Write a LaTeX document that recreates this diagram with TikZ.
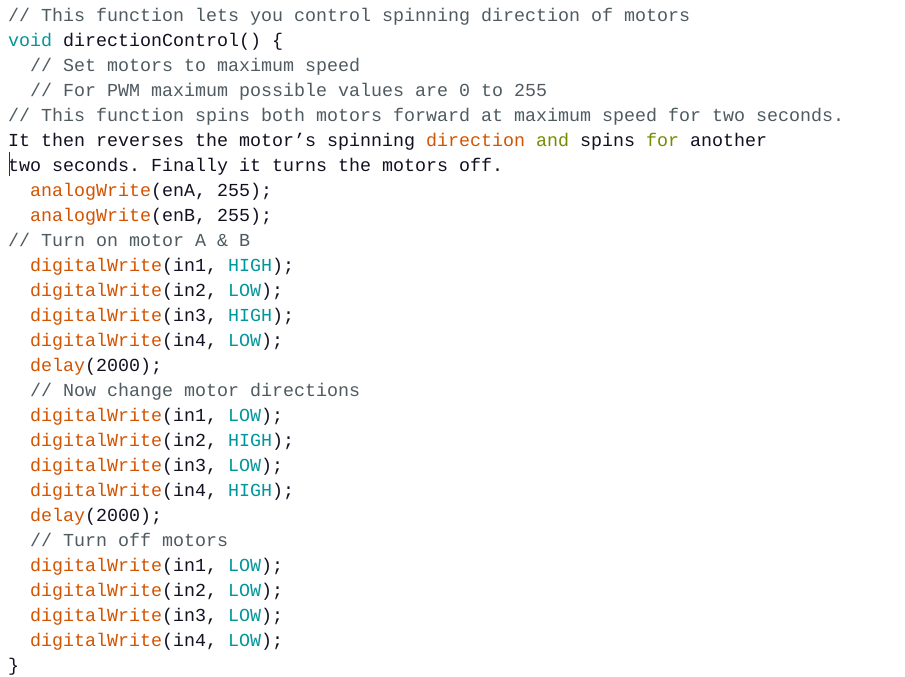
\documentclass[tikz,border=0pt]{standalone}
\usepackage{fontspec}
\setmonofont{Liberation Mono}
\definecolor{cmtc}{HTML}{4F5B61}
\definecolor{kwdc}{HTML}{00979C}
\definecolor{fncc}{HTML}{D35400}
\definecolor{olvc}{HTML}{728E00}
\definecolor{txtc}{HTML}{111122}
\newcommand{\cmt}[1]{\textcolor{cmtc}{#1}}
\newcommand{\kwd}[1]{\textcolor{kwdc}{#1}}
\newcommand{\fnc}[1]{\textcolor{fncc}{#1}}
\newcommand{\olv}[1]{\textcolor{olvc}{#1}}
\tikzset{codeline/.style={anchor=base west,inner sep=0pt,outer sep=0pt,text=txtc,font=\fontsize{13.75pt}{16pt}\selectfont\ttfamily}}
\begin{document}
\begin{tikzpicture}[x=0.75pt,y=-0.75pt]
\fill[white] (0,0) rectangle (905,676);
\useasboundingbox (0,0) rectangle (905,676);
\node[codeline] (l0) at (8,21) {\cmt{// This function lets you control spinning direction of motors}};
\node[codeline] (l1) at (8,46) {\kwd{void} directionControl() \{};
\node[codeline] (l2) at (30,71) {\cmt{// Set motors to maximum speed}};
\node[codeline] (l3) at (30,96) {\cmt{// For PWM maximum possible values are 0 to 255}};
\node[codeline] (l4) at (8,121) {\cmt{// This function spins both motors forward at maximum speed for two seconds.}};
\node[codeline] (l5) at (8,146) {It then reverses the motor’s spinning \fnc{direction} \olv{and} spins \olv{for} another};
\node[codeline] (l6) at (8,171) {two seconds. Finally it turns the motors off.};
\node[codeline] (l7) at (30,196) {\fnc{analogWrite}(enA, 255);};
\node[codeline] (l8) at (30,221) {\fnc{analogWrite}(enB, 255);};
\node[codeline] (l9) at (8,246) {\cmt{// Turn on motor A \& B}};
\node[codeline] (l10) at (30,271) {\fnc{digitalWrite}(in1, \kwd{HIGH});};
\node[codeline] (l11) at (30,296) {\fnc{digitalWrite}(in2, \kwd{LOW});};
\node[codeline] (l12) at (30,321) {\fnc{digitalWrite}(in3, \kwd{HIGH});};
\node[codeline] (l13) at (30,346) {\fnc{digitalWrite}(in4, \kwd{LOW});};
\node[codeline] (l14) at (30,371) {\fnc{delay}(2000);};
\node[codeline] (l15) at (30,396) {\cmt{// Now change motor directions}};
\node[codeline] (l16) at (30,421) {\fnc{digitalWrite}(in1, \kwd{LOW});};
\node[codeline] (l17) at (30,446) {\fnc{digitalWrite}(in2, \kwd{HIGH});};
\node[codeline] (l18) at (30,471) {\fnc{digitalWrite}(in3, \kwd{LOW});};
\node[codeline] (l19) at (30,496) {\fnc{digitalWrite}(in4, \kwd{HIGH});};
\node[codeline] (l20) at (30,521) {\fnc{delay}(2000);};
\node[codeline] (l21) at (30,546) {\cmt{// Turn off motors}};
\node[codeline] (l22) at (30,571) {\fnc{digitalWrite}(in1, \kwd{LOW});};
\node[codeline] (l23) at (30,596) {\fnc{digitalWrite}(in2, \kwd{LOW});};
\node[codeline] (l24) at (30,621) {\fnc{digitalWrite}(in3, \kwd{LOW});};
\node[codeline] (l25) at (30,646) {\fnc{digitalWrite}(in4, \kwd{LOW});};
\node[codeline] (l26) at (8,671) {\}};
\coordinate (curtop) at (9.5,152);
\coordinate (curbot) at (9.5,176);
\draw[line width=1.2pt,draw=black!85!olive] (curtop) -- (curbot);
\end{tikzpicture}
\end{document}
